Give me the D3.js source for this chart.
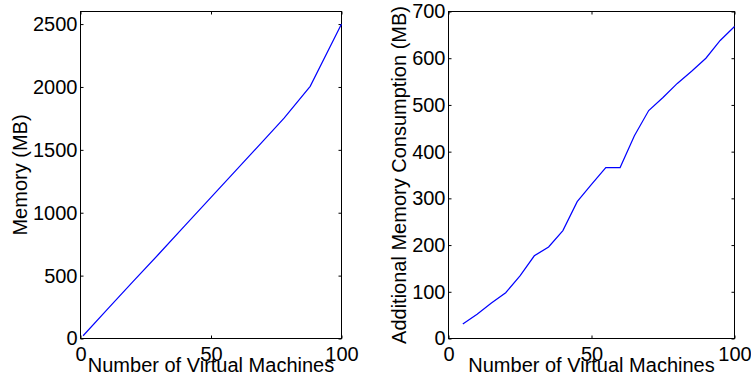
<!DOCTYPE html>
<html>
<head>
<meta charset="utf-8">
<script src="https://cdn.jsdelivr.net/npm/d3@7"></script>
<style>
  body { margin: 0; background: #fff; }
  text { font-family: "Liberation Sans", Arial, sans-serif; }
</style>
</head>
<body>
<svg id="chart" width="751" height="381"></svg>
<script>
  // left panel: total memory
  let vm_left = [1, 10, 20, 30, 40, 50, 60, 70, 78, 88, 100]
  let memory = [22, 225, 450, 672, 897, 1122, 1347, 1572, 1752, 2005, 2500]
  let y_ticks_left = [0, 500, 1000, 1500, 2000, 2500]

  // right panel: additional memory
  let vm_right = [5, 10, 15, 20, 25, 30, 35, 40, 45, 50, 55, 60, 65, 70, 75, 80, 85, 90, 95, 100]
  let additional = [31, 52, 76, 98, 134, 177, 196, 231, 293, 330, 366, 366, 434, 488, 516, 546, 572, 600, 638, 668]
  let y_ticks_right = [0, 100, 200, 300, 400, 500, 600, 700]

  let x_ticks = [0, 50, 100]

  function draw_panel(svg, box, xs, ys, y_max, y_ticks, y_label, label_x) {
    let x = d3.scaleLinear().domain([0, 100]).range([box.left, box.right])
    let y = d3.scaleLinear().domain([0, y_max]).range([box.bottom, box.top])
    let g = svg.append("g")

    let font = 20
    let fmt = d3.format("d")

    g.append("g")
      .attr("transform", `translate(0, ${box.bottom})`)
      .call(d3.axisBottom(x).tickValues(x_ticks).tickFormat(fmt).tickSizeInner(-3).tickSizeOuter(0).tickPadding(8))
    g.append("g")
      .attr("transform", `translate(0, ${box.top})`)
      .call(d3.axisTop(x).tickValues(x_ticks).tickSizeInner(-3).tickSizeOuter(0).tickFormat(""))
    g.append("g")
      .attr("transform", `translate(${box.left}, 0)`)
      .call(d3.axisLeft(y).tickValues(y_ticks).tickFormat(fmt).tickSizeInner(-3).tickSizeOuter(0).tickPadding(3))
    g.append("g")
      .attr("transform", `translate(${box.right}, 0)`)
      .call(d3.axisRight(y).tickValues(y_ticks).tickSizeInner(-3).tickSizeOuter(0).tickFormat(""))

    g.selectAll(".domain").remove()
    g.selectAll(".tick line").attr("stroke", "#000")
    g.selectAll(".tick text")
      .attr("fill", "#000")
      .style("font-size", font + "px")
      .style("font-family", "'Liberation Sans', Arial, sans-serif")

    g.append("rect")
      .attr("x", box.left)
      .attr("y", box.top)
      .attr("width", box.right - box.left)
      .attr("height", box.bottom - box.top)
      .attr("fill", "none")
      .attr("stroke", "#000")
      .attr("stroke-width", 1)

    let line = d3.line()
      .x((d, i) => x(xs[i]))
      .y(d => y(d))

    g.append("path")
      .datum(ys)
      .attr("d", line)
      .attr("fill", "none")
      .attr("stroke", "#0000ff")
      .attr("stroke-width", 1.2)

    g.append("text")
      .attr("x", (box.left + box.right) / 2)
      .attr("y", 372)
      .attr("text-anchor", "middle")
      .style("font-size", font + "px")
      .text("Number of Virtual Machines")

    g.append("text")
      .attr("transform", `translate(${label_x}, ${(box.top + box.bottom) / 2}) rotate(-90)`)
      .attr("text-anchor", "middle")
      .style("font-size", font + "px")
      .text(y_label)
  }

  let svg = d3.select("#chart")
  draw_panel(svg, {left: 80.5, right: 341.5, top: 11.5, bottom: 338.5},
    vm_left, memory, 2600, y_ticks_left, "Memory (MB)", 27)
  draw_panel(svg, {left: 448.5, right: 734.5, top: 11.5, bottom: 338.5},
    vm_right, additional, 700, y_ticks_right, "Additional Memory Consumption (MB)", 406)
</script>
</body>
</html>
